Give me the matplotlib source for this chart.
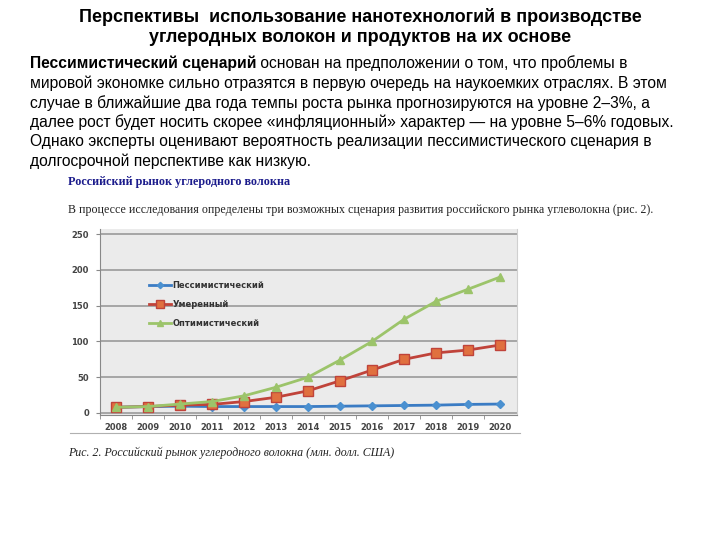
import matplotlib.pyplot as plt
from matplotlib.lines import Line2D

W, H = 720, 540

title_lines = ["Перспективы  использование нанотехнологий в производстве",
               "углеродных волокон и продуктов на их основе"]
para_bold = "Пессимистический сценарий"
para_first = " основан на предположении о том, что проблемы в"
para_lines = [
    "мировой экономке сильно отразятся в первую очередь на наукоемких отраслях. В этом",
    "случае в ближайшие два года темпы роста рынка прогнозируются на уровне 2–3%, а",
    "далее рост будет носить скорее «инфляционный» характер — на уровне 5–6% годовых.",
    "Однако эксперты оценивают вероятность реализации пессимистического сценария в",
    "долгосрочной перспективе как низкую.",
]
img_heading = "Российский рынок углеродного волокна"
img_intro = "В процессе исследования определены три возможных сценария развития российского рынка углеволокна (рис. 2)."
img_caption = "Рис. 2. Российский рынок углеродного волокна (млн. долл. США)"

years = [2008, 2009, 2010, 2011, 2012, 2013, 2014, 2015, 2016, 2017, 2018, 2019, 2020]
pessimistic = [8, 9, 9.5, 9, 9, 9, 9, 9.5, 10, 10.5, 11, 12, 12.5]
moderate = [8, 9, 11, 12, 16, 22, 31, 45, 60, 75, 84, 88, 95]
optimistic = [8, 9, 12.5, 16, 24, 36, 50, 74, 100, 131, 156, 173, 190]
series_names = ["Пессимистический", "Умеренный", "Оптимистический"]

SANS = ["Liberation Sans", "DejaVu Sans"]

fig = plt.figure(figsize=(7.2, 5.4), dpi=100)
fig.canvas.draw()
renderer = fig.canvas.get_renderer()


def fx(px):
    return px / W


def fy(py):
    return 1 - py / H


def fit_size(text, width_px, **kw):
    # font size that makes a line span the given pixel width
    probe = fig.text(0, 0, text, fontsize=10, family=SANS, **kw)
    w = probe.get_window_extent(renderer).width
    probe.remove()
    return 10 * width_px / w


# slide title
title_fs = fit_size(title_lines[0], 561, fontweight="bold")
fig.text(fx(360), fy(17), title_lines[0], ha="center", va="center",
         fontsize=title_fs, fontweight="bold", family=SANS)
fig.text(fx(360), fy(38), title_lines[1], ha="center", va="center",
         fontsize=title_fs, fontweight="bold", family=SANS)

# paragraph, first line mixes bold and regular
para_fs = fit_size(para_lines[0], 642)
t = fig.text(fx(30), fy(63), para_bold, ha="left", va="center",
             fontsize=para_fs, fontweight="bold", family=SANS)
bb = t.get_window_extent(renderer)
fig.text(bb.x1 / W, fy(63), para_first, ha="left", va="center",
         fontsize=para_fs, family=SANS)
for i, line in enumerate(para_lines):
    fig.text(fx(30), fy(83 + i * 19.6), line, ha="left", va="center",
             fontsize=para_fs, family=SANS)

# embedded chart picture: headings in serif
fig.text(fx(68), fy(182), img_heading, ha="left", va="center", fontsize=8.7,
         fontweight="bold", color="#1c1c8c", family="Liberation Serif")
fig.text(fx(68), fy(210), img_intro, ha="left", va="center", fontsize=8.6,
         color="#222222", family="Liberation Serif")
fig.text(fx(68), fy(453), img_caption, ha="left", va="center", fontsize=8.6,
         style="italic", color="#222222", family="Liberation Serif")

# frame line under the picture
fig.add_artist(Line2D([fx(70), fx(520)], [fy(433), fy(433)],
                      color="#b0b0b0", lw=0.8))

# chart axes
ax = fig.add_axes([fx(100), fy(415), fx(517 - 100), (415 - 229) / H])
ax.set_facecolor("#ebebeb")
ax.set_xlim(2007.6, 2020.53)
ax.set_ylim(-2.8, 257.2)
ax.set_yticks([0, 50, 100, 150, 200, 250])
ax.set_xticks(years)
ax.set_xticks([y + 0.5 for y in years[:-1]] + [years[0] - 0.5], minor=True)
ax.tick_params(axis="x", which="major", length=0, pad=6, labelsize=6,
               colors="#444444")
ax.tick_params(axis="x", which="minor", length=3, color="#888888")
ax.tick_params(axis="y", length=3, color="#888888", labelsize=6,
               colors="#444444", pad=5)
for lab in ax.get_xticklabels() + ax.get_yticklabels():
    lab.set_fontweight("bold")
ax.grid(axis="y", color="#9a9a9a", lw=1.2)
ax.set_axisbelow(True)
ax.spines["top"].set_visible(False)
ax.spines["right"].set_color("#d0d0d0")
ax.spines["left"].set_color("#888888")
ax.spines["bottom"].set_color("#888888")

ax.plot(years, pessimistic, color="#3b7cc4", lw=2, marker="D", ms=4,
        mfc="#4a90d0", mec="#4a90d0", label=series_names[0], clip_on=False)
ax.plot(years, moderate, color="#c0433a", lw=2, marker="s", ms=6.5,
        mfc="#e0703f", mec="#c0433a", label=series_names[1], clip_on=False)
ax.plot(years, optimistic, color="#9cc46a", lw=2, marker="^", ms=6,
        mfc="#9cc46a", mec="#9cc46a", label=series_names[2], clip_on=False)

leg = ax.legend(loc="upper left", bbox_to_anchor=(0.1, 0.76), frameon=False,
                fontsize=6, handlelength=2.6, handletextpad=0.2,
                labelspacing=1.2, markerscale=0.8)
for txt in leg.get_texts():
    txt.set_color("#333333")
    txt.set_fontweight("bold")

fig.savefig("out.png", dpi=100, facecolor="white")
